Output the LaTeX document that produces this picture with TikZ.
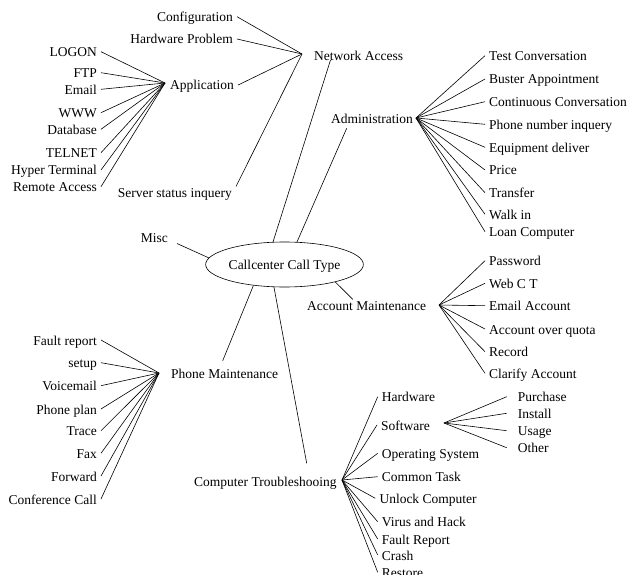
\documentclass[tikz,border=0pt]{standalone}
\usepackage{fontspec}
\setmainfont{Liberation Serif}
\usetikzlibrary{shapes.geometric}
\begin{document}
\begin{tikzpicture}[x=1pt,y=-1pt,
  every node/.style={font=\fontsize{13.5}{16}\selectfont, text height=10pt, text depth=0pt, inner xsep=4pt, inner ysep=1pt},
  lnk/.style={line width=0.6pt},
  lt/.style={anchor=east},
  rt/.style={anchor=west}]
\useasboundingbox (0,0) rectangle (629,575);

% root
\node[draw, ellipse, line width=0.6pt, minimum width=149pt, minimum height=45pt, inner sep=0pt] (root) at (284.5,264.5) {Callcenter Call Type};

% Network Access branch
\node[rt] (na) at (310,55.7) {Network Access};
\coordinate (naH) at (302,54);
\coordinate (naB) at (330.5,60);
\node[lt] (conf) at (237,16.7) {Configuration};
\node[lt] (hwp) at (237,39) {Hardware Problem};
\node[rt] (app) at (166,85) {Application};
\node[lt] (srv) at (236,192.7) {Server status inquery};
\coordinate (appH) at (165,83);
\node[lt] (a1) at (101,51.7) {LOGON};
\node[lt] (a2) at (101,72.7) {FTP};
\node[lt] (a3) at (101,89.3) {Email};
\node[lt] (a4) at (101,112.7) {WWW};
\node[lt] (a5) at (101,129.3) {Database};
\node[lt] (a6) at (101,152.7) {TELNET};
\node[lt] (a7) at (101,170) {Hyper Terminal};
\node[lt] (a8) at (101,186.7) {Remote Access};

% Administration branch
\node[rt] (adm) at (327,119) {Administration};
\coordinate (adH) at (416,118);
\coordinate (adB) at (346.7,128.3);
\node[rt] (d1) at (485,55.7) {Test Conversation};
\node[rt] (d2) at (485,79) {Buster Appointment};
\node[rt] (d3) at (485,101.7) {Continuous Conversation};
\node[rt] (d4) at (485,124.3) {Phone number inquery};
\node[rt] (d5) at (485,147.3) {Equipment deliver};
\node[rt] (d6) at (485,170) {Price};
\node[rt] (d7) at (485,192.7) {Transfer};
\node[rt] (d8) at (485,214.3) {Walk in};
\node[rt] (d9) at (485,231.7) {Loan Computer};

% Misc
\node[lt] (misc) at (172,237.3) {Misc};

% Account Maintenance branch
\node[rt] (acm) at (303,305.7) {Account Maintenance};
\coordinate (amH) at (439,305);
\coordinate (amB) at (352.7,299.3);
\node[rt] (m1) at (485,260.7) {Password};
\node[rt] (m2) at (485,283.3) {Web C T};
\node[rt] (m3) at (485,305.7) {Email Account};
\node[rt] (m4) at (485,329) {Account over quota};
\node[rt] (m5) at (485,351.7) {Record};
\node[rt] (m6) at (485,373.3) {Clarify Account};

% Phone Maintenance branch
\node[rt] (phm) at (167,373.3) {Phone Maintenance};
\coordinate (pmH) at (159,373);
\coordinate (pmB) at (222.7,360.7);
\node[lt] (p1) at (101,340) {Fault report};
\node[lt] (p2) at (101,362.7) {setup};
\node[lt] (p3) at (101,385.7) {Voicemail};
\node[lt] (p4) at (101,409) {Phone plan};
\node[lt] (p5) at (101,430.7) {Trace};
\node[lt] (p6) at (101,453.3) {Fax};
\node[lt] (p7) at (101,476) {Forward};
\node[lt] (p8) at (101,499) {Conference Call};

% Computer Troubleshooing branch
\node[rt] (ctr) at (190,481.7) {Computer Troubleshooing};
\coordinate (ctH) at (342,480);
\coordinate (ctB) at (306.7,463.3);
\node[rt] (c1) at (377.7,396.7) {Hardware};
\node[rt] (c2) at (377,425) {Software};
\node[rt] (c3) at (377.7,453.3) {Operating System};
\node[rt] (c4) at (377.7,476.7) {Common Task};
\node[rt] (c5) at (375.3,498.3) {Unlock Computer};
\node[rt] (c6) at (377.7,521.7) {Virus and Hack};
\node[rt] (c7) at (377.7,539) {Fault Report};
\node[rt] (c8) at (377.7,555) {Crash};
\node[rt] (c9) at (377.7,572.3) {Restore};
\coordinate (swH) at (444,423);
\node[rt] (s1) at (513.7,396.7) {Purchase};
\node[rt] (s2) at (513.7,413.3) {Install};
\node[rt] (s3) at (513.7,430.7) {Usage};
\node[rt] (s4) at (513.7,447.7) {Other};

% connectors
\draw[lnk] (conf.east) -- (naH);
\draw[lnk] (hwp.east) -- (naH);
\draw[lnk] (app.east) -- (naH);
\draw[lnk] (srv.north east) -- (naH);
\foreach \n in {a1,a2,a3,a4,a5,a6,a7,a8} \draw[lnk] (\n.east) -- (appH);
\draw[lnk] (naB) -- (root.117);
\draw[lnk] (adB) -- (root.61);
\foreach \n in {d1,d2,d3,d4,d5,d6,d7,d8,d9} \draw[lnk] (adH) -- (\n.west);
\draw[lnk] ([xshift=5pt]misc.south east) -- (root.175);
\draw[lnk] (root.341) -- (amB);
\foreach \n in {m1,m2,m3,m4,m5,m6} \draw[lnk] (amH) -- (\n.west);
\draw[lnk] (root.214) -- (pmB);
\foreach \n in {p1,p2,p3,p4,p5,p6,p7,p8} \draw[lnk] (\n.east) -- (pmH);
\draw[lnk] (root.245) -- (ctB);
\foreach \n in {c1,c2,c3,c4,c5,c6,c7,c8,c9} \draw[lnk] (ctH) -- (\n.west);
\foreach \n in {s1,s2,s3,s4} \draw[lnk] (swH) -- ([xshift=-7pt]\n.west);
\end{tikzpicture}
\end{document}
